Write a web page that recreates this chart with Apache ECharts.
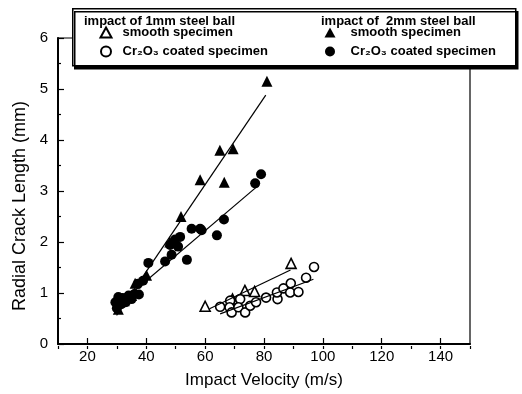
<!DOCTYPE html>
<html>
<head>
<meta charset="utf-8">
<script src="https://cdn.jsdelivr.net/npm/echarts@6/dist/echarts.min.js"></script>
<style>html,body{margin:0;padding:0;background:#fff}#c{width:522px;height:394px}</style>
</head>
<body>
<div id="c"></div>
<script>
// ---- data ----
const seriesNames = ['1mm smooth', '1mm Cr2O3', '2mm smooth', '2mm Cr2O3'];
const legendLabels = ['smooth specimen', 'Cr\u2082O\u2083 coated specimen', 'smooth specimen', 'Cr\u2082O\u2083 coated specimen'];
const legendHeaders = ['impact of 1mm steel ball', 'impact of  2mm steel ball'];
const xTickLabels = [20, 40, 60, 80, 100, 120, 140];
const yTickLabels = [0, 1, 2, 3, 4, 5, 6];

const oneSmooth = [[60, 0.74], [68.5, 0.8], [69.3, 0.88], [73.5, 1.05], [76.8, 1.03], [89.2, 1.58]];
const oneCoated = [[65.1, 0.73], [68.5, 0.85], [68.3, 0.72], [69, 0.62], [71.9, 0.88], [71.3, 0.72],
  [73.6, 0.62], [75.3, 0.75], [77.3, 0.82], [80.7, 0.91], [84.6, 0.88], [84.4, 1.01], [86.6, 1.09],
  [89.1, 1.19], [88.9, 1.01], [91.7, 1.02], [94.3, 1.3], [97, 1.51]];
const twoSmooth = [[30.5, 0.68], [32.5, 0.85], [35, 0.95], [36.2, 1.19], [40.1, 1.35], [48, 2.0],
  [51.8, 2.5], [58.3, 3.22], [66.5, 3.17], [65, 3.8], [69.5, 3.83], [81, 5.15]];
const twoCoated = [[29.5, 0.82], [30, 0.7], [30.5, 0.92], [31.5, 0.78], [32, 0.9], [33, 0.82],
  [34, 0.95], [35, 0.88], [36, 0.98], [37.5, 0.97], [37.2, 1.18], [38.9, 1.24], [40.7, 1.59],
  [46.4, 1.62], [48.6, 1.75], [48.1, 1.94], [49.8, 2.05], [50.8, 1.91], [51.5, 2.1], [53.8, 1.65],
  [55.4, 2.26], [58.3, 2.26], [58.8, 2.23], [64, 2.13], [66.4, 2.44], [77, 3.15], [79, 3.33]];

const fitOneSmooth = [[61.5, 0.69], [89, 1.45]];
const fitOneCoated = [[65.1, 0.59], [96.8, 1.27]];
const fitTwoSmooth = [[29.9, 0.56], [80.6, 4.88]];
const fitTwoCoated = [[30, 0.75], [78.1, 3.11]];

// ---- chart ----
const FONT = 'Liberation Sans, Arial, sans-serif';
const chart = echarts.init(document.getElementById('c'));
const gridBox = { left: 58, right: 52, top: 38, bottom: 45 };

function scatter(name, data, symbol, size, hollow) {
  return {
    name: name, type: 'scatter', data: data, symbol: symbol, symbolSize: size,
    xAxisIndex: 0, yAxisIndex: 0, z: 4,
    itemStyle: hollow ? { color: '#fff', borderColor: '#000', borderWidth: 1.6, opacity: 1 }
                      : { color: '#000', opacity: 1 }
  };
}
function fit(data) {
  return {
    type: 'line', data: data, symbol: 'none', xAxisIndex: 0, yAxisIndex: 0, z: 5,
    lineStyle: { color: '#000', width: 1.2 }, silent: true
  };
}
function legendFmt(name) { return legendLabels[seriesNames.indexOf(name)]; }

function legendAt(left, textPad, names) {
  return {
    left: left, top: 26, padding: 0, data: names,
    orient: 'vertical', itemWidth: 11, itemHeight: 10, itemGap: 6,
    textStyle: { fontFamily: FONT, fontSize: 13, fontWeight: 'bold', color: '#000', padding: [0, 0, 0, textPad] },
    formatter: legendFmt, selectedMode: false, z: 20
  };
}

chart.setOption({
  animation: false,
  backgroundColor: '#fff',
  grid: [
    Object.assign({ show: true, borderColor: '#000', borderWidth: 1.2, backgroundColor: 'transparent' }, gridBox),
    Object.assign({}, gridBox)
  ],
  legend: [
    legendAt(99.5, 6, [seriesNames[0], seriesNames[1]]),
    legendAt(324.5, 10, [seriesNames[2], seriesNames[3]])
  ],
  xAxis: [
    {
      type: 'value', gridIndex: 0, min: 10, max: 150, interval: 10,
      name: 'Impact Velocity (m/s)', nameLocation: 'middle', nameGap: 28,
      nameTextStyle: { fontFamily: FONT, fontSize: 17, color: '#000' },
      axisLine: { show: true, onZero: false, lineStyle: { color: '#000', width: 2 } },
      axisTick: { show: true, inside: true, length: 6, customValues: xTickLabels, lineStyle: { color: '#000', width: 1.2 } },
      axisLabel: { customValues: xTickLabels, fontFamily: FONT, fontSize: 15, color: '#000', margin: 5 },
      splitLine: { show: false }
    },
    {
      type: 'value', gridIndex: 1, min: 10, max: 150, interval: 10, position: 'bottom',
      axisLine: { show: false }, axisLabel: { show: false }, splitLine: { show: false },
      axisTick: { show: true, inside: true, length: 3, lineStyle: { color: '#000', width: 1.2 } }
    }
  ],
  yAxis: [
    {
      type: 'value', gridIndex: 0, min: 0, max: 6, interval: 1,
      name: 'Radial Crack Length (mm)', nameLocation: 'middle', nameGap: 29,
      nameTextStyle: { fontFamily: FONT, fontSize: 18, color: '#000', padding: [0, 30, 0, 0] },
      axisLine: { show: true, onZero: false, lineStyle: { color: '#000', width: 2 } },
      axisTick: { show: true, inside: true, length: 6, lineStyle: { color: '#000', width: 1.2 } },
      minorTick: { show: true, splitNumber: 2, length: 3, lineStyle: { color: '#000', width: 1.2 } },
      axisLabel: { fontFamily: FONT, fontSize: 15, color: '#000', margin: 10,
        formatter: function (v) { return yTickLabels.indexOf(v) >= 0 ? String(v) : ''; } },
      splitLine: { show: false }
    },
    { type: 'value', gridIndex: 1, min: 0, max: 6, show: false }
  ],
  graphic: [
    { type: 'rect', left: 72, top: 8, z: 10, shape: { width: 443, height: 57 },
      style: { fill: '#fff', stroke: '#000', lineWidth: 1.5, shadowColor: '#000', shadowOffsetX: 2, shadowOffsetY: 3, shadowBlur: 0 } },
    { type: 'text', left: 84, top: 15, z: 11,
      style: { text: legendHeaders[0], fontFamily: FONT, fontSize: 13, fontWeight: 'bold', fill: '#000' } },
    { type: 'text', left: 321, top: 15, z: 11,
      style: { text: legendHeaders[1], fontFamily: FONT, fontSize: 13, fontWeight: 'bold', fill: '#000' } }
  ],
  series: [
    fit(fitOneSmooth), fit(fitOneCoated), fit(fitTwoSmooth), fit(fitTwoCoated),
    scatter(seriesNames[0], oneSmooth, 'triangle', 10, true),
    scatter(seriesNames[1], oneCoated, 'circle', 9, true),
    scatter(seriesNames[2], twoSmooth, 'triangle', 11, false),
    scatter(seriesNames[3], twoCoated, 'circle', 10, false)
  ]
});
</script>
</body>
</html>
